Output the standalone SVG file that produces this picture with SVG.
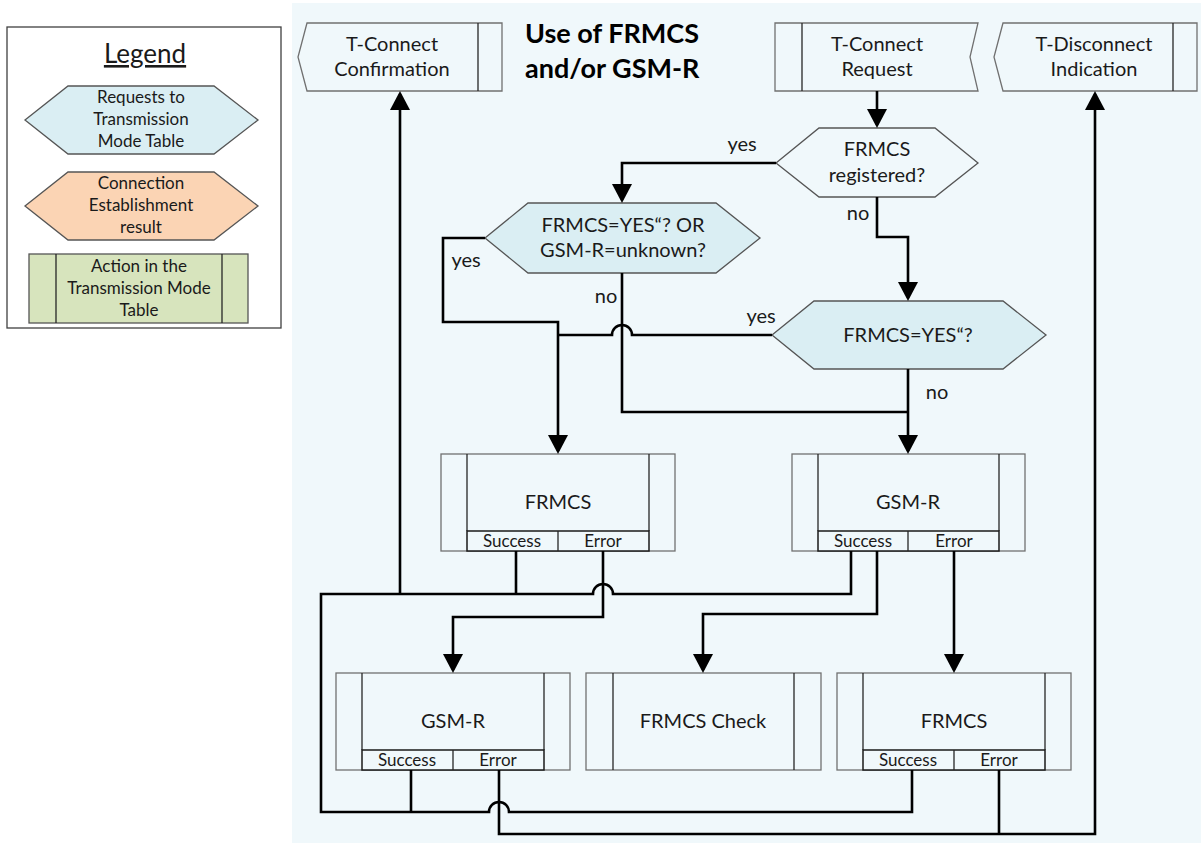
<svg xmlns="http://www.w3.org/2000/svg" width="1201" height="843" viewBox="0 0 1201 843">
<style>
.t{font-family:Lato,"Liberation Sans",sans-serif;font-size:20px;fill:#1a1a1a;text-anchor:middle}
.s{font-size:17px}
.lg{font-size:17px}
.title{font-weight:bold;font-size:27px;text-anchor:start;fill:#000}
.box{fill:#f0f8fb;stroke:#707070;stroke-width:1.3}
.in{stroke:#262626;stroke-width:1.3;fill:none}
.bar{fill:#f0f8fb;stroke:#1a1a1a;stroke-width:1.5}
.hexw{fill:#f0f8fb;stroke:#555;stroke-width:1.3}
.blue{fill:#daeef3;stroke:#555;stroke-width:1.3}
.orange{fill:#fbd4b4;stroke:#555;stroke-width:1.3}
.green{fill:#d7e4bd;stroke:#555;stroke-width:1.3}
.conn{fill:none;stroke:#000;stroke-width:2.6}
.arrow{marker-end:url(#arr)}
</style>
<defs>
<marker id="arr" markerUnits="userSpaceOnUse" markerWidth="20" markerHeight="20" viewBox="0 0 19 20" refX="16" refY="10" orient="auto">
<path d="M0,0 L19,10 L0,20 z" fill="#000"/>
</marker>
</defs>

<rect x="292" y="3" width="909" height="840" fill="#f0f8fb"/>

<g id="legend">
<rect x="7" y="27" width="274" height="301" fill="#fff" stroke="#404040" stroke-width="1.3"/>
<text class="t" x="145" y="63" font-size="26" text-decoration="underline" style="font-size:26px">Legend</text>
<polygon class="blue" points="25,120 68,86 214,86 258,120 214,154 68,154"/>
<text class="t lg" x="141" y="103">Requests to</text>
<text class="t lg" x="141" y="125">Transmission</text>
<text class="t lg" x="141" y="147">Mode Table</text>
<polygon class="orange" points="25,206 68,172 214,172 258,206 214,240 68,240"/>
<text class="t lg" x="141" y="189">Connection</text>
<text class="t lg" x="141" y="211">Establishment</text>
<text class="t lg" x="141" y="233">result</text>
<rect class="green" x="29" y="254" width="219" height="69"/>
<line class="in" x1="56" y1="254" x2="56" y2="323"/>
<line class="in" x1="222" y1="254" x2="222" y2="323"/>
<text class="t lg" x="139" y="272">Action in the</text>
<text class="t lg" x="139" y="294">Transmission Mode</text>
<text class="t lg" x="139" y="316">Table</text>
</g>

<g id="title">
<text class="t title" x="525" y="43">Use of FRMCS</text>
<text class="t title" x="525" y="78">and/or GSM-R</text>
</g>

<g id="t-connect-confirmation">
<polygon class="box" points="307,23 502,23 502,91 307,91 298,57"/>
<line class="in" x1="478" y1="23" x2="478" y2="91"/>
<text class="t" x="392" y="51">T-Connect</text>
<text class="t" x="392" y="76">Confirmation</text>
</g>

<g id="t-connect-request">
<polygon class="box" points="775,23 978,23 970,57 978,91 775,91"/>
<line class="in" x1="802" y1="23" x2="802" y2="91"/>
<text class="t" x="877" y="51">T-Connect</text>
<text class="t" x="877" y="76">Request</text>
</g>

<g id="t-disconnect-indication">
<polygon class="box" points="1003,23 1197,23 1197,91 1003,91 994,57"/>
<line class="in" x1="1173" y1="23" x2="1173" y2="91"/>
<text class="t" x="1094" y="51">T-Disconnect</text>
<text class="t" x="1094" y="76">Indication</text>
</g>

<g id="frmcs-registered">
<polygon class="hexw" points="776,163 819,128 935,128 978,163 935,197 819,197"/>
<text class="t" x="877" y="156">FRMCS</text>
<text class="t" x="877" y="182">registered?</text>
</g>

<g id="frmcs-yes-or-gsmr-unknown">
<polygon class="blue" points="485,238 528,203 716,203 760,238 716,273 528,273"/>
<text class="t" x="623" y="232">FRMCS=YES“? OR</text>
<text class="t" x="623" y="257">GSM-R=unknown?</text>
</g>

<g id="frmcs-yes">
<polygon class="blue" points="772,335 814,301 1003,301 1046,335 1003,369 814,369"/>
<text class="t" x="908" y="342">FRMCS=YES“?</text>
</g>

<g id="frmcs-1">
<rect class="box" x="441" y="454" width="234" height="97"/>
<line class="in" x1="467" y1="454" x2="467" y2="531"/>
<line class="in" x1="649" y1="454" x2="649" y2="531"/>
<rect class="bar" x="467" y="531" width="182" height="20"/>
<line class="in" x1="558" y1="531" x2="558" y2="551"/>
<text class="t" x="558" y="509">FRMCS</text>
<text class="t s" x="512" y="547">Success</text>
<text class="t s" x="603" y="547">Error</text>
</g>

<g id="gsmr-1">
<rect class="box" x="792" y="454" width="233" height="97"/>
<line class="in" x1="818" y1="454" x2="818" y2="531"/>
<line class="in" x1="999" y1="454" x2="999" y2="531"/>
<rect class="bar" x="818" y="531" width="181" height="20"/>
<line class="in" x1="908" y1="531" x2="908" y2="551"/>
<text class="t" x="908" y="509">GSM-R</text>
<text class="t s" x="863" y="547">Success</text>
<text class="t s" x="954" y="547">Error</text>
</g>

<g id="gsmr-2">
<rect class="box" x="336" y="673" width="234" height="97"/>
<line class="in" x1="362" y1="673" x2="362" y2="750"/>
<line class="in" x1="544" y1="673" x2="544" y2="750"/>
<rect class="bar" x="362" y="750" width="182" height="20"/>
<line class="in" x1="453" y1="750" x2="453" y2="770"/>
<text class="t" x="453" y="728">GSM-R</text>
<text class="t s" x="407" y="766">Success</text>
<text class="t s" x="498" y="766">Error</text>
</g>

<g id="frmcs-check">
<rect class="box" x="586" y="673" width="235" height="97"/>
<line class="in" x1="613" y1="673" x2="613" y2="770"/>
<line class="in" x1="794" y1="673" x2="794" y2="770"/>
<text class="t" x="703" y="728">FRMCS Check</text>
</g>

<g id="frmcs-2">
<rect class="box" x="837" y="673" width="234" height="97"/>
<line class="in" x1="863" y1="673" x2="863" y2="750"/>
<line class="in" x1="1045" y1="673" x2="1045" y2="750"/>
<rect class="bar" x="863" y="750" width="182" height="20"/>
<line class="in" x1="954" y1="750" x2="954" y2="770"/>
<text class="t" x="954" y="728">FRMCS</text>
<text class="t s" x="908" y="766">Success</text>
<text class="t s" x="999" y="766">Error</text>
</g>

<g id="connectors">
<path class="conn arrow" d="M877,91 V125"/>
<path class="conn arrow" d="M776,163 H622 V200"/>
<path class="conn arrow" d="M877,197 V237 H908 V298"/>
<path class="conn arrow" d="M485,238 H443 V322 H558 V451"/>
<path class="conn" d="M772,335 H632 A10,10 0 0 0 612,335 H558"/>
<path class="conn" d="M622,273 V412 H908"/>
<path class="conn arrow" d="M908,369 V451"/>
<path class="conn" d="M851,551 V594 H613 A10,10 0 0 0 593,594 H321 V812 H489 A10,10 0 0 1 509,812 H912 V770"/>
<path class="conn" d="M516,551 V594"/>
<path class="conn" d="M411,770 V812"/>
<path class="conn arrow" d="M400,594 V94"/>
<path class="conn arrow" d="M877,551 V614 H703 V670"/>
<path class="conn arrow" d="M954,551 V670"/>
<path class="conn arrow" d="M603,551 V617 H453 V670"/>
<path class="conn arrow" d="M499,770 V834 H1095 V94"/>
<path class="conn" d="M999,770 V834"/>
<text class="t" x="742" y="151">yes</text>
<text class="t" x="858" y="220">no</text>
<text class="t" x="466" y="267">yes</text>
<text class="t" x="606" y="303">no</text>
<text class="t" x="761" y="323">yes</text>
<text class="t" x="937" y="399">no</text>
</g>
</svg>
